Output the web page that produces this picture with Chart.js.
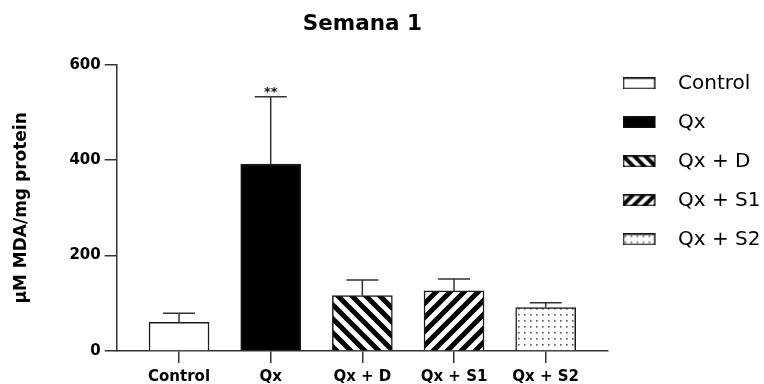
<!DOCTYPE html>
<html>
<head>
<meta charset="utf-8">
<script src="https://cdn.jsdelivr.net/npm/chart.js@4.4.1/dist/chart.umd.min.js"></script>
<style>
  html, body { margin: 0; padding: 0; background: #fff; }
  #wrap { width: 764px; height: 384px; position: relative; }
</style>
</head>
<body>
<div id="wrap"><canvas id="c"></canvas></div>
<script>
// Chart text
const chartTitle = 'Semana 1';
const yAxisTitle = 'µM MDA/mg protein';

// Groups, means and SEM (µM MDA/mg protein)
const categories = ['Control', 'Qx', 'Qx + D', 'Qx + S1', 'Qx + S2'];
const meanValues = [60, 392, 116, 126, 91];
const semValues = [19, 141, 33, 25, 10];
const significance = ['', '**', '', '', ''];
const yTicks = [0, 200, 400, 600];

const FONT = '"DejaVu Sans", Arial, sans-serif';

// Fill tiles: plain, solid, back-diagonal stripes, forward-diagonal stripes, dots
function makeTile(kind, size) {
  const t = document.createElement('canvas');
  t.width = size; t.height = size;
  const g = t.getContext('2d');
  g.fillStyle = '#fff';
  g.fillRect(0, 0, size, size);
  if (kind === 'back' || kind === 'fwd') {
    g.strokeStyle = '#000';
    g.lineWidth = size * 0.36;
    g.lineCap = 'square';
    for (const k of [-size, 0, size, 2 * size]) {
      g.beginPath();
      if (kind === 'back') { g.moveTo(-2, k - 2); g.lineTo(size + 2, k + size + 2); }
      else { g.moveTo(-2, k + 2); g.lineTo(size + 2, k - size - 2); }
      g.stroke();
    }
  } else if (kind === 'dots') {
    g.fillStyle = '#555';
    g.fillRect(2, 2, 1.6, 1.6);
  }
  return t;
}

function fillFor(kind, size) {
  if (kind === 'white') return '#ffffff';
  if (kind === 'black') return '#000000';
  const tile = makeTile(kind, size);
  return tile.getContext('2d').createPattern(tile, 'repeat');
}

const fillKinds = ['white', 'black', 'back', 'fwd', 'dots'];
const barFills = fillKinds.map(k => fillFor(k, k === 'dots' ? 6 : 14));

// Legend swatches drawn on small canvases
function makeIcon(kind) {
  const ic = document.createElement('canvas');
  ic.width = 50; ic.height = 12;
  const g = ic.getContext('2d');
  g.fillStyle = fillFor(kind, kind === 'dots' ? 6 : 11);
  g.fillRect(0.75, 0.75, 31.5, 10.5);
  g.strokeStyle = '#111';
  g.lineWidth = 1.5;
  g.strokeRect(0.75, 0.75, 31.5, 10.5);
  return ic;
}
const legendIcons = fillKinds.map(makeIcon);

// One-sided (upper) SEM bars with significance marks
const errorBarPlugin = {
  id: 'errorBars',
  afterDatasetsDraw(chart) {
    const { ctx, scales: { x, y } } = chart;
    ctx.save();
    ctx.strokeStyle = '#333';
    ctx.lineWidth = 1.5;
    meanValues.forEach((m, i) => {
      const px = x.getPixelForValue(i);
      const yb = y.getPixelForValue(m);
      const yt = y.getPixelForValue(m + semValues[i]);
      ctx.beginPath();
      ctx.moveTo(px, yb);
      ctx.lineTo(px, yt);
      ctx.moveTo(px - 16, yt);
      ctx.lineTo(px + 16, yt);
      ctx.stroke();
      if (significance[i]) {
        ctx.fillStyle = '#111';
        ctx.font = 'bold 13px ' + FONT;
        ctx.textAlign = 'center';
        ctx.textBaseline = 'alphabetic';
        ctx.fillText(significance[i], px, yt - 1);
      }
    });
    ctx.restore();
  }
};

const datasets = categories.map((label, i) => ({
  label,
  data: [{ x: i, y: meanValues[i] }],
  backgroundColor: barFills[i],
  borderColor: '#1a1a1a',
  borderWidth: 1.5,
  grouped: false,
  barThickness: 60
}));

new Chart(document.getElementById('c'), {
  type: 'bar',
  data: { datasets },
  plugins: [errorBarPlugin],
  options: {
    responsive: true,
    maintainAspectRatio: false,
    animation: false,
    layout: { padding: { left: 0, right: -6.5, top: 0, bottom: -7 } },
    scales: {
      x: {
        type: 'linear',
        offset: false,
        min: -0.68,
        max: 4.68,
        afterBuildTicks: s => { s.ticks = categories.map((_, i) => ({ value: i })); },
        border: { display: true, color: '#333', width: 1.5 },
        grid: { display: true, offset: false, drawOnChartArea: false, drawTicks: true, tickLength: 12, color: '#333', lineWidth: 1.5 },
        ticks: {
          autoSkip: false,
          maxRotation: 0,
          padding: 5,
          color: '#000',
          font: { family: FONT, size: 15, weight: 'bold' },
          callback: v => categories[v]
        }
      },
      y: {
        min: 0,
        max: 600,
        afterBuildTicks: s => { s.ticks = yTicks.map(v => ({ value: v })); },
        border: { display: true, color: '#333', width: 1.5 },
        grid: { display: true, drawOnChartArea: false, drawTicks: true, tickLength: 12, color: '#333', lineWidth: 1.5 },
        ticks: { padding: 4, color: '#000', font: { family: FONT, size: 15, weight: 'bold' } },
        title: {
          display: true,
          text: yAxisTitle,
          color: '#000',
          font: { family: FONT, size: 17, weight: 'bold' },
          padding: { top: 11, bottom: 34 }
        }
      }
    },
    plugins: {
      tooltip: { enabled: false },
      title: {
        display: true,
        text: chartTitle,
        fullSize: false,
        color: '#000',
        font: { family: FONT, size: 21.5, weight: 'bold' },
        padding: { top: 12, bottom: 27 }
      },
      legend: {
        position: 'right',
        align: 'start',
        title: { display: true, text: '', padding: { top: 40, bottom: 0 } },
        labels: {
          usePointStyle: true,
          pointStyleWidth: 41,
          padding: 19,
          color: '#000',
          font: { family: FONT, size: 20 },
          generateLabels(chart) {
            const items = Chart.defaults.plugins.legend.labels.generateLabels(chart);
            items.forEach((it, i) => { it.pointStyle = legendIcons[i]; });
            return items;
          }
        }
      }
    }
  }
});
</script>
</body>
</html>
